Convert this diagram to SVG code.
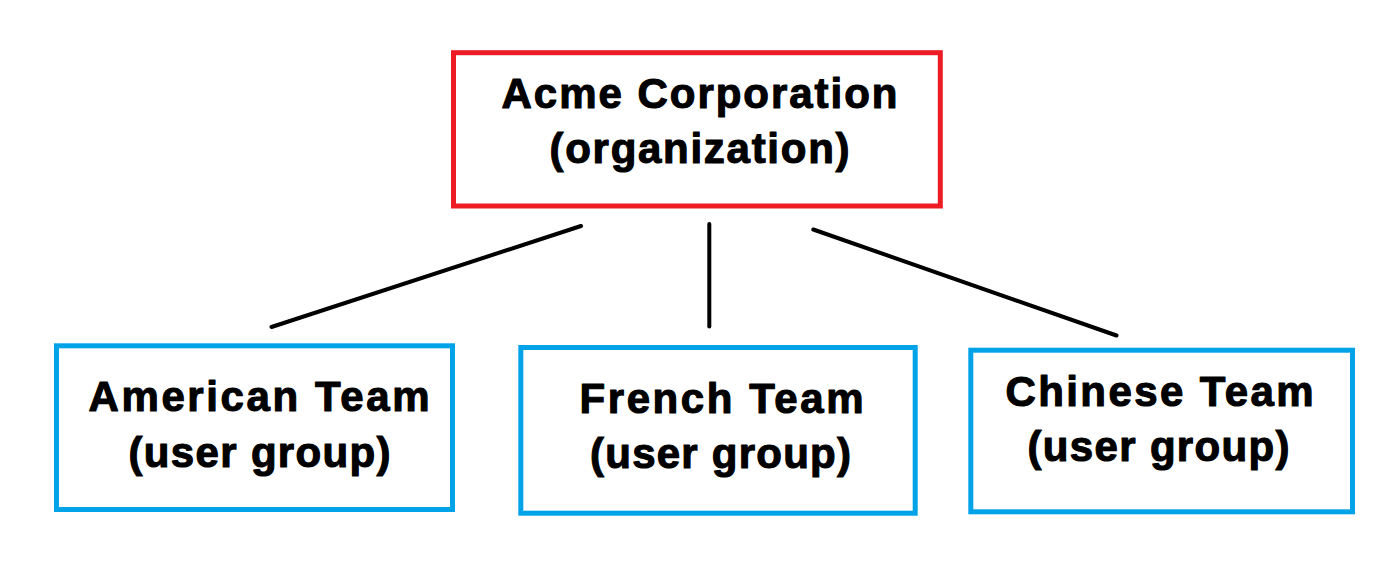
<svg xmlns="http://www.w3.org/2000/svg" width="1394" height="571" viewBox="0 0 1394 571">
<style>
.org{fill:#fff;stroke:#ed1c24;stroke-width:5}
.grp{fill:#fff;stroke:#00a2e8;stroke-width:5}
.t{font-family:"Liberation Sans",Arial,sans-serif;font-weight:bold;font-size:42px;fill:#000;stroke:#000;stroke-width:1.1;stroke-linejoin:round}
.c line{stroke:#000;stroke-width:4;stroke-linecap:round}
</style>
<rect width="1394" height="571" fill="#fff"/>
<g class="c" id="connectors">
<line x1="271.5" y1="327" x2="581" y2="226"/>
<line x1="709.3" y1="224" x2="709.3" y2="326.5"/>
<line x1="813.3" y1="229.5" x2="1116.5" y2="335.5"/>
</g>
<g id="acme">
<rect class="org" x="453.5" y="52.7" width="486.8" height="153.3"/>
<text class="t" x="501.5" y="108" textLength="396" lengthAdjust="spacing">Acme Corporation</text>
<text class="t" x="549.5" y="163" textLength="300" lengthAdjust="spacing">(organization)</text>
</g>
<g id="american">
<rect class="grp" x="56.5" y="345.8" width="396" height="163.7"/>
<text class="t" x="88.5" y="411" textLength="341" lengthAdjust="spacing">American Team</text>
<text class="t" x="128.5" y="466.5" textLength="262" lengthAdjust="spacing">(user group)</text>
</g>
<g id="french">
<rect class="grp" x="520.8" y="347.5" width="394.4" height="165.7"/>
<text class="t" x="579.5" y="413.3" textLength="284" lengthAdjust="spacing">French Team</text>
<text class="t" x="590" y="468.3" textLength="261" lengthAdjust="spacing">(user group)</text>
</g>
<g id="chinese">
<rect class="grp" x="970.8" y="350.2" width="381.7" height="161.6"/>
<text class="t" x="1005.5" y="406" textLength="308" lengthAdjust="spacing">Chinese Team</text>
<text class="t" x="1027.5" y="461" textLength="262" lengthAdjust="spacing">(user group)</text>
</g>
</svg>
